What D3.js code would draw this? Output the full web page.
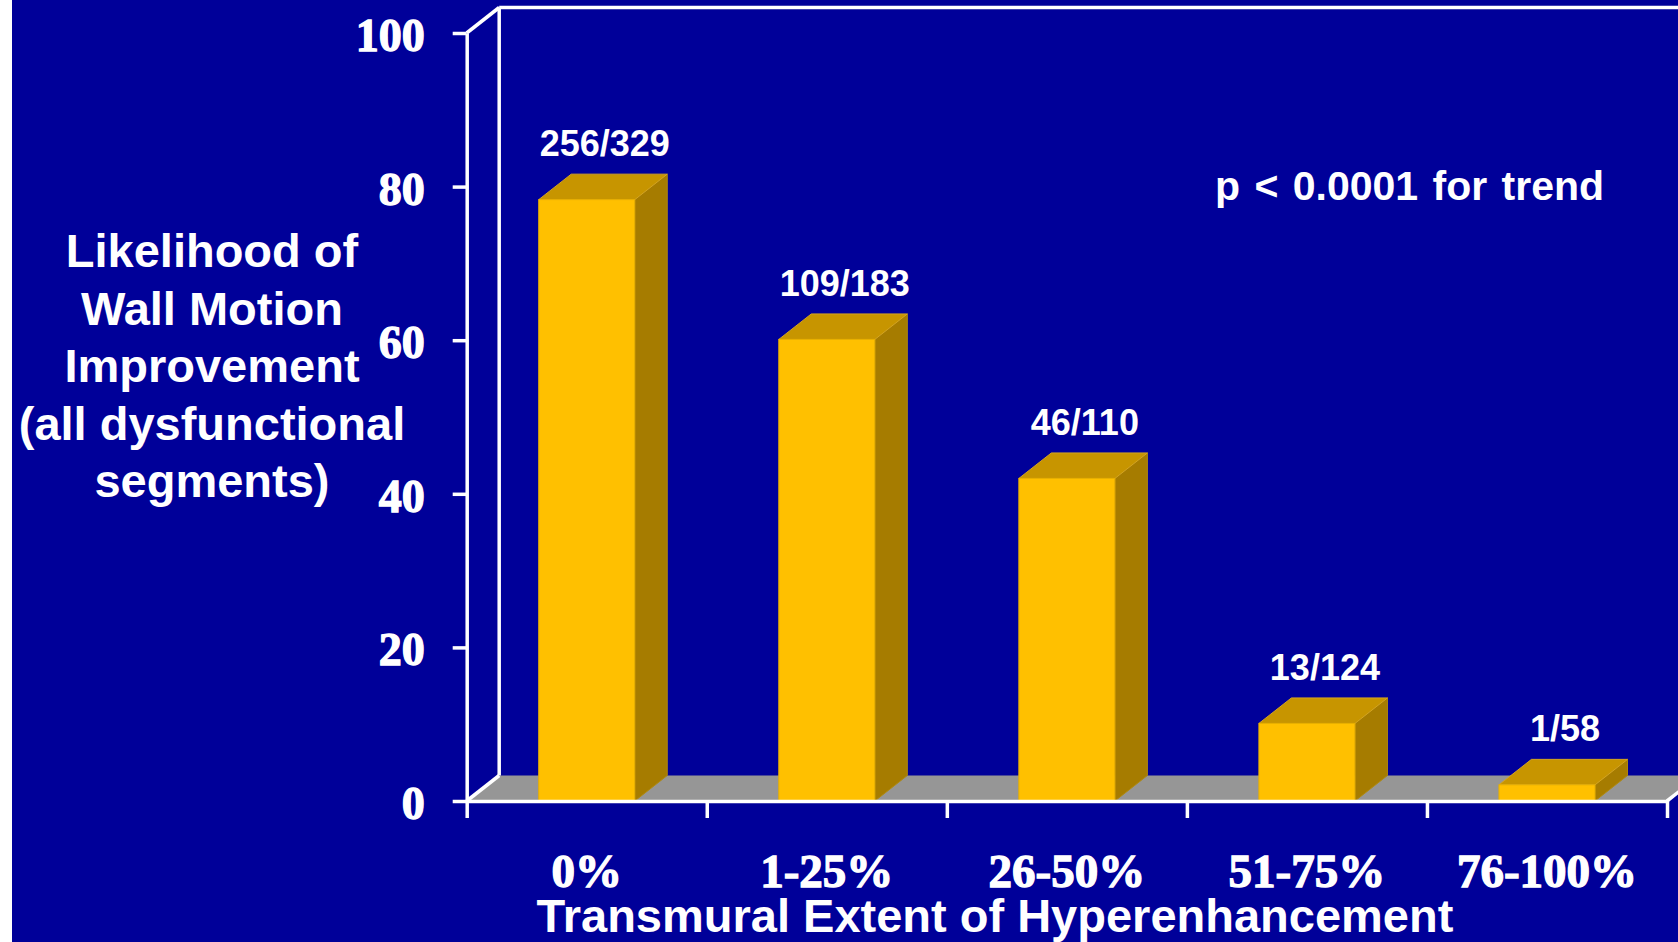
<!DOCTYPE html>
<html>
<head>
<meta charset="utf-8">
<script src="https://cdn.jsdelivr.net/npm/d3@7"></script>
<style>
  body { margin: 0; background: #fff; }
  text { fill: #fff; }
</style>
</head>
<body>
<script>
// chart data
var categories = ["0%", "1-25%", "26-50%", "51-75%", "76-100%"];
var values = [78.3, 60.1, 42.0, 10.1, 2.1];
var counts = ["256/329", "109/183", "46/110", "13/124", "1/58"];
var yTicks = [0, 20, 40, 60, 80, 100];
var yTitle = ["Likelihood of", "Wall Motion", "Improvement", "(all dysfunctional", "segments)"];
var xTitle = "Transmural Extent of Hyperenhancement";
var note = "p < 0.0001 for trend";

var width = 1678, height = 942;
var x0 = 466.7, x1 = 1667, yBase = 801, yTop = 33;
// depth offset of the fake 3d
var dx = 32.5, dy = -25.5;

var svg = d3.select("body").append("svg")
    .attr("width", width)
    .attr("height", height);

svg.append("rect")
    .attr("x", 12).attr("y", 0)
    .attr("width", width - 12).attr("height", height)
    .attr("fill", "#000099");

var x = d3.scaleBand().domain(categories).range([x0, x1])
    .paddingInner(0.6).paddingOuter(0.3);
var edge = d3.scaleLinear().domain([0, categories.length]).range([x0, x1]);
var y = d3.scaleLinear().domain([0, 100]).range([yBase, yTop]);
var bw = x.bandwidth();

function pts(a) { return a.map(function(p) { return p.join(","); }).join(" "); }

// floor
svg.append("polygon")
    .attr("points", pts([[x0, yBase], [x1, yBase], [x1 + dx, yBase + dy], [x0 + dx, yBase + dy]]))
    .attr("fill", "#969696");

// wall outlines
var walls = [
  [[x0, y(100)], [x0 + dx, y(100) + dy]],
  [[x0 + dx, y(100) + dy], [x0 + dx, yBase + dy]],
  [[x0 + dx, y(100) + dy], [width + 20, y(100) + dy]],
  [[x0, yBase], [x0 + dx, yBase + dy]],
  [[x1, yBase], [x1 + dx, yBase + dy]]
];
svg.append("g").selectAll("line")
    .data(walls)
    .enter().append("line")
    .attr("x1", function(d) { return d[0][0]; })
    .attr("y1", function(d) { return d[0][1]; })
    .attr("x2", function(d) { return d[1][0]; })
    .attr("y2", function(d) { return d[1][1]; })
    .attr("stroke", "#fff")
    .attr("stroke-width", 3.5);

// bars
var bar = svg.append("g").selectAll("g")
    .data(values)
    .enter().append("g");

bar.append("polygon")
    .attr("points", function(d, i) {
      var bx = x(categories[i]), by = y(d);
      return pts([[bx + bw, by], [bx + bw + dx, by + dy], [bx + bw + dx, yBase + dy], [bx + bw, yBase]]);
    })
    .attr("fill", "#A67C00")
    .attr("stroke", "#B08A10").attr("stroke-width", 1);

bar.append("polygon")
    .attr("points", function(d, i) {
      var bx = x(categories[i]), by = y(d);
      return pts([[bx, by], [bx + bw, by], [bx + bw + dx, by + dy], [bx + dx, by + dy]]);
    })
    .attr("fill", "#C79500")
    .attr("stroke", "#D4A420").attr("stroke-width", 1);

bar.append("rect")
    .attr("x", function(d, i) { return x(categories[i]); })
    .attr("y", function(d) { return y(d); })
    .attr("width", bw)
    .attr("height", function(d) { return yBase - y(d); })
    .attr("fill", "#FFC000")
    .attr("stroke", "#E8B000").attr("stroke-width", 1);

bar.append("text")
    .attr("x", function(d, i) { return x(categories[i]) + bw / 2 + 18; })
    .attr("y", function(d) { return y(d) + dy - 18; })
    .attr("text-anchor", "middle")
    .style("font-family", "Liberation Sans, Arial, sans-serif")
    .style("font-weight", "bold")
    .style("font-size", "36px")
    .text(function(d, i) { return counts[i]; });

// y axis
var yAxis = svg.append("g")
    .attr("transform", "translate(" + x0 + ",0)")
    .call(d3.axisLeft(y).tickValues(yTicks).tickSize(14).tickSizeOuter(0).tickPadding(28));

// x axis (ticks on category edges)
var xAxis = svg.append("g")
    .attr("transform", "translate(0," + yBase + ")")
    .call(d3.axisBottom(edge).tickValues(d3.range(categories.length + 1))
      .tickSize(17).tickSizeOuter(0).tickFormat(""));

[yAxis, xAxis].forEach(function(g) {
  g.selectAll("path, line").attr("stroke", "#fff").attr("stroke-width", 3.5);
});

yAxis.selectAll("text")
    .attr("dy", "0.38em")
    .style("fill", "#fff")
    .style("stroke", "#fff")
    .style("stroke-width", "1.3px")
    .style("font-family", "Liberation Serif, Times New Roman, serif")
    .style("font-weight", "bold")
    .style("font-size", "46px");

// category labels
var catAxis = svg.append("g")
    .attr("transform", "translate(0," + yBase + ")")
    .call(d3.axisBottom(x).tickSize(0));
catAxis.select(".domain").remove();
catAxis.selectAll("text")
    .attr("y", 86).attr("dy", 0)
    .style("fill", "#fff")
    .style("stroke", "#fff")
    .style("stroke-width", "1.3px")
    .style("font-family", "Liberation Serif, Times New Roman, serif")
    .style("font-weight", "bold")
    .style("font-size", "47px");

// titles
svg.append("text")
    .attr("x", 995).attr("y", 932)
    .attr("text-anchor", "middle")
    .style("font-family", "Liberation Sans, Arial, sans-serif")
    .style("font-weight", "bold")
    .style("font-size", "47px")
    .text(xTitle);

svg.append("g").selectAll("text")
    .data(yTitle)
    .enter().append("text")
    .attr("x", 212)
    .attr("y", function(d, i) { return 267 + i * 57.5; })
    .attr("text-anchor", "middle")
    .style("font-family", "Liberation Sans, Arial, sans-serif")
    .style("font-weight", "bold")
    .style("font-size", "47px")
    .text(function(d) { return d; });

svg.append("text")
    .attr("x", 1215).attr("y", 200)
    .style("font-family", "Liberation Sans, Arial, sans-serif")
    .style("font-weight", "bold")
    .style("font-size", "41px")
    .style("word-spacing", "3px")
    .text(note);
</script>
</body>
</html>
